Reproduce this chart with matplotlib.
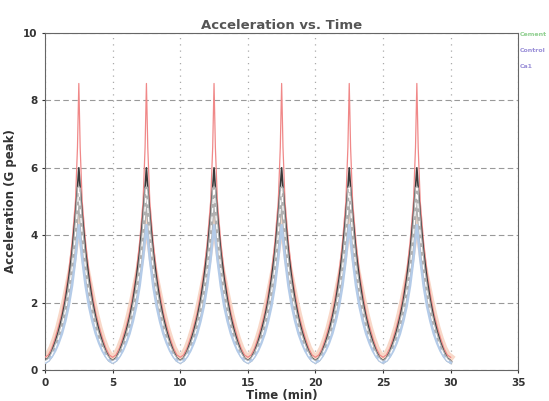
import numpy as np
import matplotlib.pyplot as plt

offsets = [0.0, 0.1, 0.25, 0.5, 0.75, 1.0, 1.25, 1.5, 1.75, 2.0, 2.25, 2.5]
red_prof = [8.5, 6.6, 5.0, 3.8, 2.9, 2.25, 1.7, 1.3, 0.95, 0.65, 0.45, 0.38]
peach_prof = [4.6, 4.3, 3.8, 3.1, 2.6, 2.1, 1.65, 1.25, 0.92, 0.65, 0.46, 0.38]
black_prof = [6.0, 5.4, 4.6, 3.5, 2.7, 2.05, 1.55, 1.15, 0.82, 0.55, 0.36, 0.28]
gray_prof = [5.4, 4.8, 4.0, 3.0, 2.3, 1.75, 1.3, 0.95, 0.67, 0.45, 0.3, 0.24]
blue_prof = [4.3, 3.9, 3.3, 2.5, 1.9, 1.45, 1.08, 0.8, 0.57, 0.4, 0.28, 0.22]
peaks = [2.5, 7.5, 12.5, 17.5, 22.5, 27.5]

legend_names = ['Cement', 'Control', 'Ca1']
legend_colors = ['#8fcf8f', '#9a8fd8', '#9a8fd8']


def series(prof):
    t, y = [], []
    for p in peaks:
        for d, v in zip(offsets[::-1], prof[::-1]):
            t.append(p - d)
            y.append(v)
        for d, v in zip(offsets[1:], prof[1:]):
            t.append(p + d)
            y.append(v)
    return t, y


fig = plt.figure(figsize=(5.49, 4.01), dpi=100)
ax = fig.add_axes([0.082, 0.077, 0.862, 0.841])

t, y = series(peach_prof)
ax.plot(t, y, color='#f8d8c8', lw=5, zorder=2)
t, y = series(red_prof)
ax.plot(t, y, color='#f08888', lw=0.9, zorder=3)
t, y = series(black_prof)
ax.plot(t, y, color='#3a3a3a', lw=1.2, zorder=4)
t, y = series(gray_prof)
ax.plot(t, y, color='#b0b0b0', lw=2.6, zorder=5)
ax.plot(t, y, color='white', lw=0.9, ls=(0, (4, 3)), zorder=6)
t, y = series(blue_prof)
ax.plot(t, y, color='#b4cbe8', lw=1.8, zorder=5)

ax.axhline(10, xmin=0.68, xmax=1, color='#e08080', lw=1.2)

ax.set_xlim(0, 35)
ax.set_ylim(0, 10)
ax.set_xticks(range(0, 36, 5))
ax.set_yticks(range(0, 11, 2))
ax.tick_params(labelsize=7.5, length=2, colors='#333333')
for lab in ax.get_xticklabels() + ax.get_yticklabels():
    lab.set_fontweight('bold')

ax.grid(axis='y', color='#999999', ls=(0, (5, 3)), lw=0.8)
ax.grid(axis='x', color='#aaaaaa', ls=(0, (1, 4)), lw=0.9)
for s in ax.spines.values():
    s.set_color('#666666')
    s.set_linewidth(0.8)

ax.set_title('Acceleration vs. Time', fontsize=9.5, fontweight='bold', color='#555555', pad=3)
ax.set_xlabel('Time (min)', fontsize=8.5, fontweight='bold', color='#333333', labelpad=1)
ax.set_ylabel('Acceleration (G peak)', fontsize=8.5, fontweight='bold', color='#333333', labelpad=4)

for i, (name, c) in enumerate(zip(legend_names, legend_colors)):
    fig.text(0.947, 0.915 - i * 0.04, name, fontsize=4.5, fontweight='bold', color=c, va='center')

fig.savefig('out.png', dpi=100)
